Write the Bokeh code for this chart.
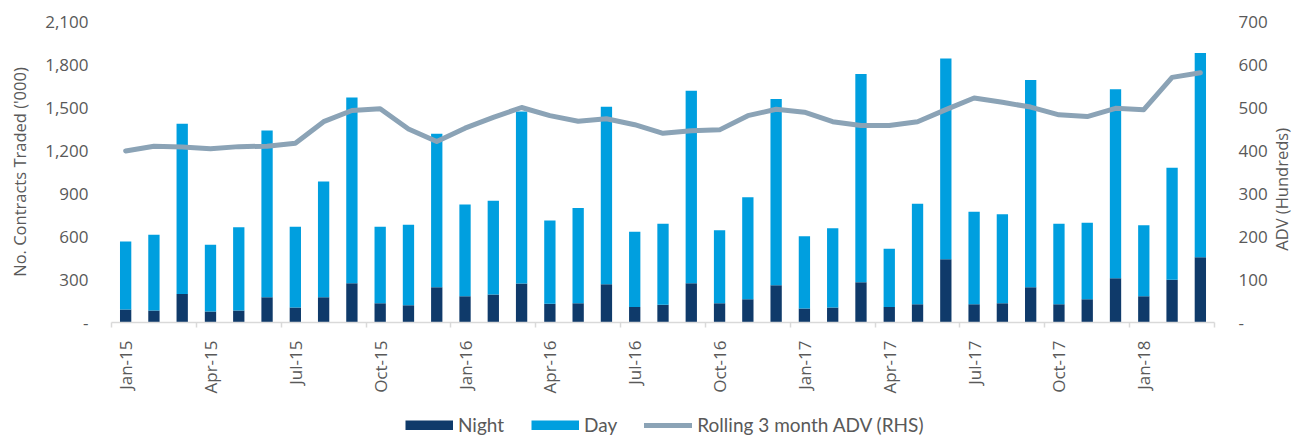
import math
from bokeh.plotting import figure
from bokeh.layouts import column
from bokeh.models import (ColumnDataSource, Range1d, LinearAxis, FixedTicker,
                          NumeralTickFormatter, Legend, LegendItem)
from bokeh.embed import file_html
from bokeh.resources import INLINE

months = ["Jan-15", "Feb-15", "Mar-15", "Apr-15", "May-15", "Jun-15", "Jul-15", "Aug-15", "Sep-15", "Oct-15", "Nov-15", "Dec-15",
          "Jan-16", "Feb-16", "Mar-16", "Apr-16", "May-16", "Jun-16", "Jul-16", "Aug-16", "Sep-16", "Oct-16", "Nov-16", "Dec-16",
          "Jan-17", "Feb-17", "Mar-17", "Apr-17", "May-17", "Jun-17", "Jul-17", "Aug-17", "Sep-17", "Oct-17", "Nov-17", "Dec-17",
          "Jan-18", "Feb-18", "Mar-18"]

night = [90, 84, 198, 77, 84, 177, 105, 177, 274, 135, 121, 246,
         184, 195, 272, 130, 135, 267, 109, 123, 274, 135, 163, 260,
         98, 105, 281, 109, 128, 442, 128, 135, 246, 128, 163, 309,
         184, 298, 456]

day = [475, 528, 1188, 465, 581, 1163, 563, 807, 1296, 533, 561, 1071,
       639, 654, 1200, 582, 663, 1238, 524, 566, 1343, 509, 711, 1299,
       504, 553, 1452, 405, 700, 1400, 644, 621, 1445, 561, 533, 1319,
       495, 782, 1424]

adv = [399, 410, 408, 404, 409, 410, 417, 467, 493, 497, 450, 421,
       452, 477, 500, 481, 468, 474, 460, 440, 446, 448, 481, 496,
       489, 467, 458, 458, 467, 495, 522, 512, 501, 483, 479, 498,
       495, 570, 581]

left_ticks = [0, 300, 600, 900, 1200, 1500, 1800, 2100]
right_ticks = [0, 100, 200, 300, 400, 500, 600, 700]

NIGHT_C = "#0f3a6a"
DAY_C = "#009fdf"
LINE_C = "#8ba3b6"
TEXT_C = "#595959"
FONT = "Open Sans"

n = len(months)
xs = [i + 0.5 for i in range(n)]
src = ColumnDataSource(dict(x=xs, Night=night, Day=day, ADV=adv, month=months))

p = figure(width=1307, height=407, output_backend="svg", toolbar_location=None,
           x_range=Range1d(0, n), y_range=Range1d(0, 2100),
           min_border_left=111, min_border_right=93, min_border_top=21, min_border_bottom=85)
p.outline_line_color = None
p.grid.visible = False

p.extra_y_ranges = {"adv": Range1d(0, 700)}

bars = p.vbar_stack(["Night", "Day"], x="x", width=0.4, source=src,
                    color=[NIGHT_C, DAY_C], line_color=None)
line = p.line("x", "ADV", source=src, y_range_name="adv", line_color=LINE_C,
              line_width=5, line_join="round", line_cap="round")

# x axis
xa = p.xaxis[0]
label_pos = [i + 0.5 for i in range(0, n, 3)]
xa.ticker = FixedTicker(ticks=label_pos, minor_ticks=list(range(0, n + 1, 3)))
xa.major_label_overrides = {i + 0.5: months[i] for i in range(0, n, 3)}
xa.major_label_orientation = math.pi / 2
xa.major_tick_out = 0
xa.major_tick_in = 0
xa.minor_tick_out = 5
xa.minor_tick_in = 0
xa.minor_tick_line_color = "#d9d9d9"
xa.minor_tick_line_width = 1.5
xa.axis_line_color = "#d9d9d9"
xa.axis_line_width = 1.5
xa.major_label_standoff = 13
xa.major_label_text_font = FONT
xa.major_label_text_font_size = "17px"
xa.major_label_text_color = TEXT_C


def bare(axis):
    axis.axis_line_color = None
    axis.major_tick_line_color = None
    axis.minor_tick_line_color = None
    axis.major_tick_out = 0
    axis.major_tick_in = 0
    axis.minor_tick_out = 0
    axis.minor_tick_in = 0


# left axis
ya = p.yaxis[0]
ya.ticker = FixedTicker(ticks=left_ticks)
ya.formatter = NumeralTickFormatter(format="0,0")
ya.major_label_overrides = {0: "-"}
bare(ya)
ya.major_label_standoff = 23
ya.major_label_text_font = FONT
ya.major_label_text_font_size = "17px"
ya.major_label_text_color = TEXT_C
ya.axis_label = "No. Contracts Traded ('000)"
ya.axis_label_standoff = 11
ya.axis_label_text_font = FONT
ya.axis_label_text_font_size = "16.5px"
ya.axis_label_text_font_style = "normal"
ya.axis_label_text_color = TEXT_C

# right axis
ra = LinearAxis(y_range_name="adv", ticker=FixedTicker(ticks=right_ticks))
ra.major_label_overrides = {0: "-"}
bare(ra)
ra.major_label_standoff = 24
ra.major_label_text_font = FONT
ra.major_label_text_font_size = "17px"
ra.major_label_text_color = TEXT_C
p.add_layout(ra, "right")

# right axis title, drawn as the single label of a bare axis so that it reads bottom-to-top
rt = LinearAxis(y_range_name="adv", ticker=FixedTicker(ticks=[167]))
rt.major_label_overrides = {167: "ADV (Hundreds)"}
rt.major_label_orientation = math.pi / 2
bare(rt)
rt.major_label_standoff = 11
rt.major_label_text_font = FONT
rt.major_label_text_font_size = "16.5px"
rt.major_label_text_color = TEXT_C
p.add_layout(rt, "right")

# legend strip below the chart (its renderers hold no drawable points)
nan = float("nan")
lg = figure(width=1307, height=30, output_backend="svg", toolbar_location=None,
            x_range=Range1d(0, 1), y_range=Range1d(0, 1),
            min_border_left=111, min_border_right=93, min_border_top=0, min_border_bottom=0)
lg.axis.visible = False
lg.grid.visible = False
lg.outline_line_color = None
r_night = lg.line(x=[nan, nan], y=[nan, nan], line_color=NIGHT_C, line_width=10, line_cap="butt")
r_day = lg.line(x=[nan, nan], y=[nan, nan], line_color=DAY_C, line_width=10, line_cap="butt")
r_line = lg.line(x=[nan, nan], y=[nan, nan], line_color=LINE_C, line_width=5, line_cap="round")

legend = Legend(items=[LegendItem(label="Night", renderers=[r_night]),
                       LegendItem(label="Day", renderers=[r_day]),
                       LegendItem(label="Rolling 3 month ADV (RHS)", renderers=[r_line])],
                orientation="horizontal", location=(294, 1),
                padding=0, margin=0, spacing=27, label_standoff=5,
                glyph_width=48, glyph_height=10, label_height=20,
                border_line_color=None, background_fill_alpha=0,
                label_text_font="Lato", label_text_font_size="19px",
                label_text_color=TEXT_C)
lg.add_layout(legend, "center")

layout = column(p, lg, spacing=0)
open("out.html", "w").write(file_html(layout, INLINE))
